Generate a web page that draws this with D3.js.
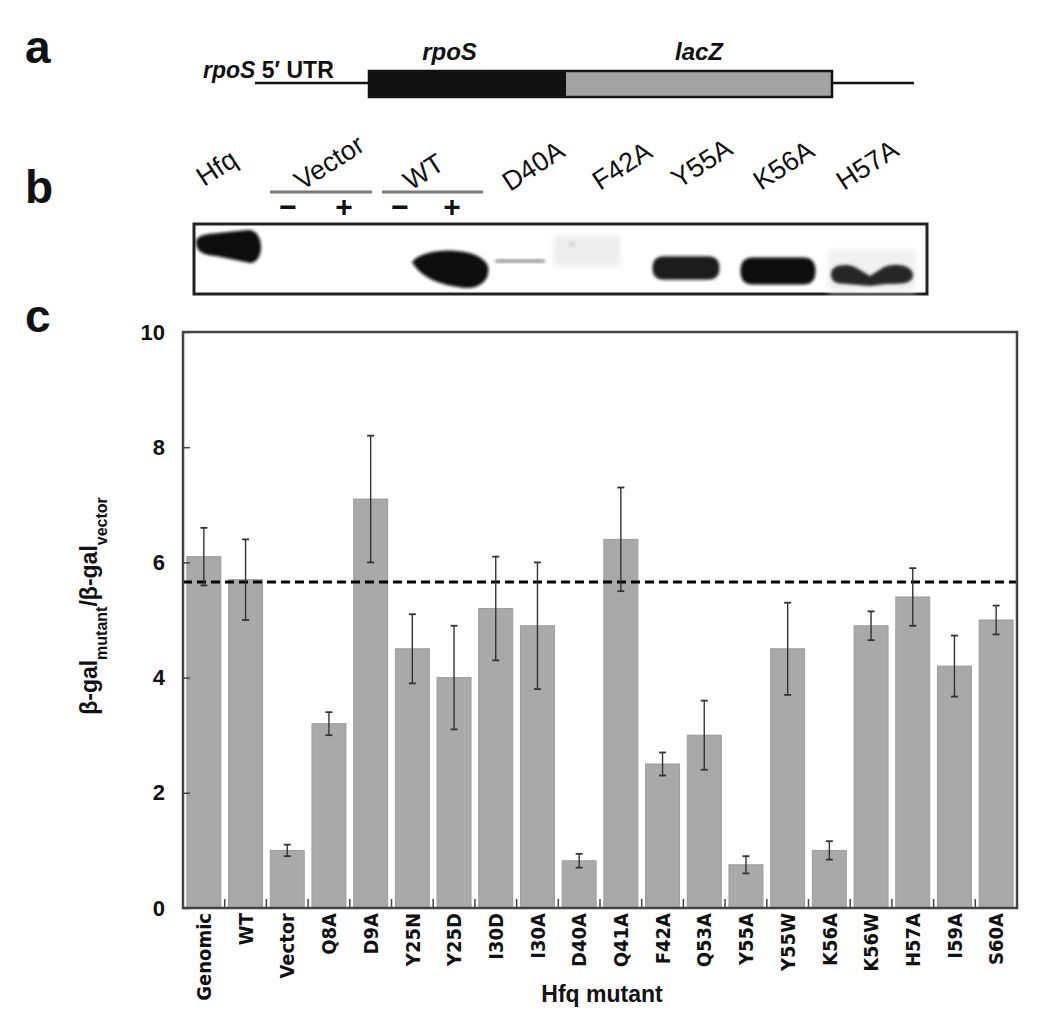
<!DOCTYPE html>
<html>
<head>
<meta charset="utf-8">
<script src="https://cdn.jsdelivr.net/npm/d3@7"></script>
<style>
  html, body { margin: 0; padding: 0; background: #fff; }
  svg { display: block; }
  text { font-family: "Liberation Sans", Arial, Helvetica, sans-serif; }
  .narrow { font-family: "Liberation Sans Narrow", "Arial Narrow", "DejaVu Sans Condensed", sans-serif; }
</style>
</head>
<body>
<svg id="fig" width="1050" height="1034"></svg>
<script>
// ---------------- DATA ----------------
// Panel c: bar chart
const categories = ["Genomic","WT","Vector","Q8A","D9A","Y25N","Y25D","I30D","I30A","D40A",
                    "Q41A","F42A","Q53A","Y55A","Y55W","K56A","K56W","H57A","I59A","S60A"];
const ratioValues = [6.1, 5.7, 1.0, 3.2, 7.1, 4.5, 4.0, 5.2, 4.9, 0.82,
                     6.4, 2.5, 3.0, 0.75, 4.5, 1.0, 4.9, 5.4, 4.2, 5.0];
const ratioErrors = [0.5, 0.7, 0.1, 0.2, 1.1, 0.6, 0.9, 0.9, 1.1, 0.12,
                     0.9, 0.2, 0.6, 0.15, 0.8, 0.16, 0.25, 0.5, 0.53, 0.25];
const yTicks = [0, 2, 4, 6, 8, 10];
const wtReference = 5.66;

// Panel b: western blot lanes and relative band signal
const blotLanes  = ["Hfq","V-","V+","WT-","WT+","D40A","F42A","Y55A","K56A","H57A"];
const blotSignal = [1.0, 0, 0, 0, 1.0, 0.3, 0.06, 0.9, 1.0, 0.85];
const blotLabels = ["Hfq","Vector","WT","D40A","F42A","Y55A","K56A","H57A"];
const blotSigns  = [["V-","−"],["V+","+"],["WT-","−"],["WT+","+"]];

// Panel a: construct segments
const constructSegments = ["rpoS","lacZ"];

// ---------------- DRAW ----------------
(function () {
const svg = d3.select("#fig");

// panel letters
const letters = [["a",63],["b",203],["c",332]];
svg.selectAll("text.letter").data(letters).join("text")
  .attr("class","letter")
  .attr("x", 25).attr("y", d => d[1])
  .attr("font-size", 46).attr("font-weight", "bold").attr("fill", "#111")
  .text(d => d[0]);

// ---------- Panel a ----------
const gA = svg.append("g");
const segX = d3.scaleOrdinal().domain(["utr","rpoS","lacZ","end"]).range([255, 369, 566, 832]);
const segEnd = d3.scaleOrdinal().domain(["utr","rpoS","lacZ","end"]).range([369, 566, 832, 914]);
const segFill = d3.scaleOrdinal().domain(constructSegments).range(["#111", "#a3a3a3"]);
gA.append("line").attr("x1", segX("utr")).attr("x2", segEnd("utr")).attr("y1", 83).attr("y2", 83)
  .attr("stroke", "#111").attr("stroke-width", 2.5);
gA.append("line").attr("x1", segX("end")).attr("x2", segEnd("end")).attr("y1", 83).attr("y2", 83)
  .attr("stroke", "#111").attr("stroke-width", 2.5);
gA.selectAll("rect.seg").data(constructSegments).join("rect")
  .attr("class","seg")
  .attr("x", d => segX(d)).attr("width", d => segEnd(d) - segX(d))
  .attr("y", 71).attr("height", 26)
  .attr("fill", d => segFill(d));
gA.append("rect").attr("x", segX("rpoS")).attr("y", 71)
  .attr("width", segEnd("lacZ") - segX("rpoS")).attr("height", 26)
  .attr("fill", "none").attr("stroke", "#111").attr("stroke-width", 2.5);
gA.selectAll("text.seglab").data(constructSegments).join("text")
  .attr("class","seglab")
  .attr("x", d => (segX(d) + segEnd(d)) / 2 + (d === "rpoS" ? -18 : 0))
  .attr("y", 60).attr("text-anchor", "middle")
  .attr("font-size", 24).attr("font-weight", "bold").attr("font-style", "italic").attr("fill","#111")
  .text(d => d);
const utr = gA.append("text").attr("x", 203).attr("y", 78)
  .attr("font-size", 23).attr("font-weight", "bold").attr("fill","#111");
utr.append("tspan").attr("font-style", "italic").text("rpoS");
utr.append("tspan").text(" 5′ UTR");

// ---------- Panel b ----------
const gB = svg.append("g");
const laneX = d3.scaleOrdinal().domain(blotLanes)
  .range([229, 288, 344, 400, 452, 520, 587, 686, 778, 872]);
const laneW = d3.scaleOrdinal().domain(blotLanes)
  .range([66, 50, 50, 50, 72, 50, 60, 67, 75, 82]);
const shade = d3.scaleLinear().domain([0, 0.3, 1]).range(["#f4f4f4", "#888", "#0d0d0d"]);
const bandH = d3.scaleLinear().domain([0, 0.3, 1]).range([26, 3, 27]);

const defs = svg.append("defs");
defs.append("filter").attr("id", "blur").attr("x", "-20%").attr("y", "-40%").attr("width", "140%").attr("height", "180%")
  .append("feGaussianBlur").attr("stdDeviation", 1.6);
defs.append("filter").attr("id", "blur2").attr("x", "-20%").attr("y", "-40%").attr("width", "140%").attr("height", "180%")
  .append("feGaussianBlur").attr("stdDeviation", 3);

gB.append("rect").attr("x", 194).attr("y", 224).attr("width", 733).attr("height", 70)
  .attr("fill", "#fff").attr("stroke", "#222").attr("stroke-width", 3);

const bandCY = d3.scaleOrdinal().domain(blotLanes)
  .range([246, 268, 268, 268, 268, 261, 250, 268, 271, 274]);

const bands = blotLanes.map((l, i) => ({ lane: l, s: blotSignal[i] })).filter(d => d.s > 0);
gB.selectAll("rect.bg").data(bands.filter(d => d.lane === "H57A" || d.lane === "F42A")).join("rect")
  .attr("class","bg")
  .attr("x", d => laneX(d.lane) - laneW(d.lane) / 2 - 3)
  .attr("y", d => d.lane === "F42A" ? 236 : 250)
  .attr("width", d => laneW(d.lane) + 6)
  .attr("height", d => d.lane === "F42A" ? 30 : 42)
  .attr("fill", d => d.lane === "F42A" ? "#ececec" : "#f1f1f1")
  .attr("filter", "url(#blur2)");

function bandPath(d) {
  const cx = laneX(d.lane), w = laneW(d.lane), cy = bandCY(d.lane), h = bandH(d.s);
  const x0 = cx - w / 2, x1 = cx + w / 2;
  const p = d3.path();
  if (d.lane === "Hfq") {
    p.moveTo(x0, cy - 4);
    p.bezierCurveTo(x0, cy - 11, x0 + 12, cy - 12, x0 + 22, cy - 13);
    p.lineTo(x1 - 14, cy - 16);
    p.bezierCurveTo(x1 + 3, cy - 17, x1 + 3, cy + 17, x1 - 12, cy + 17);
    p.lineTo(x0 + 20, cy + 10);
    p.bezierCurveTo(x0 + 6, cy + 9, x0, cy + 5, x0, cy - 4);
  } else if (d.lane === "WT+") {
    p.moveTo(x0 - 4, cy - 6);
    p.bezierCurveTo(x0 + 8, cy - 22, x1 - 8, cy - 22, x1, cy - 2);
    p.bezierCurveTo(x1 + 3, cy + 16, x1 - 14, cy + 23, x1 - 30, cy + 19);
    p.bezierCurveTo(x0 + 14, cy + 15, x0 + 2, cy + 4, x0 - 4, cy - 6);
  } else if (d.lane === "H57A") {
    p.moveTo(x0, cy);
    p.bezierCurveTo(x0, cy - 9, x0 + 14, cy - 11, x0 + 24, cy - 7);
    p.lineTo(cx - 2, cy + 2);
    p.lineTo(cx + 12, cy - 7);
    p.bezierCurveTo(x1 - 16, cy - 12, x1, cy - 8, x1, cy + 1);
    p.bezierCurveTo(x1, cy + 10, x1 - 12, cy + 10, cx + 14, cy + 10);
    p.lineTo(cx - 2, cy + 12);
    p.lineTo(x0 + 16, cy + 10);
    p.bezierCurveTo(x0 + 4, cy + 10, x0, cy + 7, x0, cy);
  } else if (d.lane === "F42A") {
    p.rect(x0 + 12, cy - 8, 6, 5);
  } else {
    const r = Math.min(h / 2, 12);
    p.moveTo(x0 + r, cy - h / 2);
    p.lineTo(x1 - r, cy - h / 2);
    p.quadraticCurveTo(x1, cy - h / 2, x1, cy);
    p.quadraticCurveTo(x1, cy + h / 2, x1 - r, cy + h / 2);
    p.lineTo(x0 + r, cy + h / 2);
    p.quadraticCurveTo(x0, cy + h / 2, x0, cy);
    p.quadraticCurveTo(x0, cy - h / 2, x0 + r, cy - h / 2);
  }
  return p.toString();
}
gB.selectAll("path.band").data(bands).join("path")
  .attr("class","band")
  .attr("d", bandPath)
  .attr("fill", d => d.lane === "F42A" ? "#d8d8d8" : shade(d.s))
  .attr("filter", "url(#blur)");

const labelPos = d3.scaleOrdinal().domain(blotLabels)
  .range([[204,187],[302,191],[411,191],[510,192],[600,191],[679,189],[761,191],[844,191]]);
gB.selectAll("text.lane").data(blotLabels).join("text")
  .attr("class","lane")
  .attr("transform", d => `translate(${labelPos(d)[0]},${labelPos(d)[1]}) rotate(-33)`)
  .attr("font-size", 27).attr("fill", "#111")
  .text(d => d);
const groupLine = [["V-","V+"],["WT-","WT+"]];
gB.selectAll("line.grp").data(groupLine).join("line")
  .attr("class","grp")
  .attr("x1", d => laneX(d[0]) - 18).attr("x2", d => laneX(d[1]) + 28 + (d[0]==="WT-" ? 3 : 0))
  .attr("y1", 192).attr("y2", 192)
  .attr("stroke", "#7a7a7a").attr("stroke-width", 3);
gB.selectAll("text.sign").data(blotSigns).join("text")
  .attr("class","sign")
  .attr("x", d => laneX(d[0])).attr("y", 217)
  .attr("text-anchor", "middle").attr("font-size", 30).attr("font-weight", "bold").attr("fill","#111")
  .text(d => d[1]);

// ---------- Panel c ----------
const pLeft = 183, pRight = 1017, pTop = 332, pBottom = 908;
const x = d3.scaleBand().domain(categories).range([pLeft, pRight]).paddingInner(0.185).paddingOuter(0.0925);
const y = d3.scaleLinear().domain([0, 10]).range([pBottom, pTop]);
const gC = svg.append("g");

gC.selectAll("rect.bar").data(categories).join("rect")
  .attr("class","bar")
  .attr("x", d => x(d)).attr("width", x.bandwidth())
  .attr("y", (d, i) => y(ratioValues[i]))
  .attr("height", (d, i) => y(0) - y(ratioValues[i]))
  .attr("fill", "#a9a9a9").attr("stroke", "#9c9c9c").attr("stroke-width", 1);

gC.append("line").attr("x1", pLeft).attr("x2", pRight)
  .attr("y1", y(wtReference)).attr("y2", y(wtReference))
  .attr("stroke", "#000").attr("stroke-width", 3.2).attr("stroke-dasharray", "9,5");

const eb = gC.selectAll("g.err").data(categories).join("g").attr("class","err");
const cxOf = d => x(d) + x.bandwidth() / 2;
eb.append("line")
  .attr("x1", cxOf).attr("x2", cxOf)
  .attr("y1", d => { const i = categories.indexOf(d); return y(ratioValues[i] + ratioErrors[i]); })
  .attr("y2", d => { const i = categories.indexOf(d); return y(ratioValues[i] - ratioErrors[i]); })
  .attr("stroke", "#333").attr("stroke-width", 1.4);
[1, -1].forEach(sgn => {
  eb.append("line")
    .attr("x1", d => cxOf(d) - 3.5).attr("x2", d => cxOf(d) + 3.5)
    .attr("y1", d => { const i = categories.indexOf(d); return y(ratioValues[i] + sgn * ratioErrors[i]); })
    .attr("y2", d => { const i = categories.indexOf(d); return y(ratioValues[i] + sgn * ratioErrors[i]); })
    .attr("stroke", "#333").attr("stroke-width", 1.8);
});

gC.append("rect").attr("x", pLeft).attr("y", pTop).attr("width", pRight - pLeft).attr("height", pBottom - pTop)
  .attr("fill", "none").attr("stroke", "#444").attr("stroke-width", 2.5);

const yAxis = d3.axisLeft(y).tickValues(yTicks).tickSize(-7).tickPadding(18).tickFormat(d3.format("d"));
const yg = gC.append("g").attr("transform", `translate(${pLeft},0)`).call(yAxis);
yg.select(".domain").remove();
yg.selectAll(".tick line").attr("stroke", "#444").attr("stroke-width", 1.5);
yg.selectAll(".tick text").attr("font-size", 22).attr("font-weight", "bold").attr("fill", "#111")
  .attr("font-family", "'Liberation Sans', Arial, sans-serif");

const step = x.step();
const boundaries = categories.slice(1);
gC.selectAll("line.xt").data(boundaries).join("line")
  .attr("class","xt")
  .attr("x1", d => x(d) - step * x.paddingInner() / 2).attr("x2", d => x(d) - step * x.paddingInner() / 2)
  .attr("y1", pBottom).attr("y2", pBottom - 9)
  .attr("stroke", "#444").attr("stroke-width", 1.5);

gC.selectAll("text.xl").data(categories).join("text")
  .attr("class","xl narrow")
  .attr("transform", d => `translate(${cxOf(d)},${pBottom + 5}) rotate(-90)`)
  .attr("text-anchor", "end").attr("dy", "0.36em")
  .attr("font-size", 20).attr("font-weight", "bold").attr("fill", "#111")
  .text(d => d);

gC.append("text").attr("x", 602).attr("y", 1002).attr("text-anchor", "middle")
  .attr("font-size", 23).attr("font-weight", "bold").attr("fill", "#111").text("Hfq mutant");

const yt = gC.append("text")
  .attr("transform", "translate(97,606) rotate(-90)")
  .attr("text-anchor", "middle").attr("font-size", 23).attr("font-weight", "bold").attr("fill", "#111");
yt.append("tspan").text("β-gal");
yt.append("tspan").attr("font-size", 16).attr("dy", 10).text("mutant");
yt.append("tspan").attr("dy", -10).text("/β-gal");
yt.append("tspan").attr("font-size", 16).attr("dy", 10).text("vector");
})();
</script>
</body>
</html>
